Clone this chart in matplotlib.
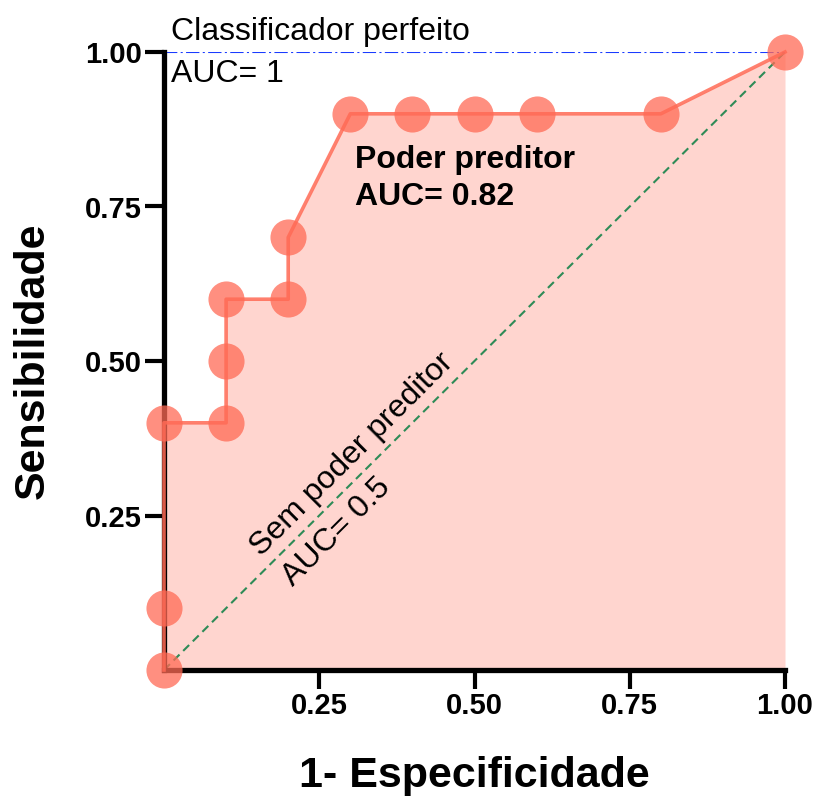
import matplotlib

matplotlib.use("Agg")
import matplotlib.pyplot as plt

plt.rcParams["font.family"] = ["Liberation Sans", "DejaVu Sans"]

# pontos da curva ROC (1-especificidade, sensibilidade)
FPR = [0.0, 0.0, 0.0, 0.1, 0.1, 0.1, 0.2, 0.2, 0.3, 0.4, 0.5, 0.6, 0.8, 1.0]
TPR = [0.0, 0.1, 0.4, 0.4, 0.5, 0.6, 0.6, 0.7, 0.9, 0.9, 0.9, 0.9, 0.9, 1.0]
TICKS = [0.25, 0.50, 0.75, 1.00]
TICK_LABELS = ["0.25", "0.50", "0.75", "1.00"]

SALMON = "#ff6a55"
FS = 23  # anotações

fig = plt.figure(figsize=(8.17, 8.05), dpi=100)
ax = fig.add_axes([164 / 817, 1 - 670 / 805, 621 / 817, 618 / 805])

ax.fill_between(FPR, TPR, 0, color="#ffd5cf", linewidth=0, zorder=1)
ax.plot([0, 1], [0, 1], ls=(0, (4, 2.5)), color="#2e8b57", lw=1.5, zorder=2)
ax.plot([0, 1], [1, 1], ls="-.", color="#1a3cff", lw=1.5, zorder=2)
ax.plot(FPR, TPR, color=SALMON, lw=2.6, alpha=0.85, zorder=4, clip_on=False)
ax.plot(FPR, TPR, ls="none", marker="o", ms=26, color=SALMON,
        alpha=0.75, markeredgewidth=0, zorder=5, clip_on=False)

ax.set_xlim(0, 1)
ax.set_ylim(0, 1)
ax.set_xticks(TICKS)
ax.set_xticklabels(TICK_LABELS)
ax.set_yticks(TICKS)
ax.set_yticklabels(TICK_LABELS)
for lab in ax.get_xticklabels() + ax.get_yticklabels():
    lab.set_fontweight("bold")
    lab.set_fontsize(21)
ax.tick_params(length=14, width=3, pad=2)
ax.spines[["top", "right"]].set_visible(False)
ax.spines[["left", "bottom"]].set_linewidth(3.8)
ax.spines["left"].set_zorder(3)
ax.spines["bottom"].set_zorder(3)

ax.set_xlabel("1- Especificidade", fontsize=31, fontweight="bold", labelpad=26)
ax.set_ylabel("Sensibilidade", fontsize=31, fontweight="bold", labelpad=23)

ax.text(0.012, 1.019, "Classificador perfeito", fontsize=FS, va="baseline", ha="left")
ax.text(0.012, 0.951, "AUC= 1", fontsize=FS, va="baseline", ha="left")
ax.text(0.308, 0.812, "Poder preditor", fontsize=FS, fontweight="bold",
        va="baseline", ha="left")
ax.text(0.308, 0.752, "AUC= 0.82", fontsize=FS, fontweight="bold",
        va="baseline", ha="left")
ax.text(0.157, 0.183, "Sem poder preditor", fontsize=FS, rotation=45,
        rotation_mode="anchor", ha="left", va="baseline")
ax.text(0.208, 0.134, "AUC= 0.5", fontsize=FS, rotation=45,
        rotation_mode="anchor", ha="left", va="baseline")

fig.savefig("out.png", dpi=100)
